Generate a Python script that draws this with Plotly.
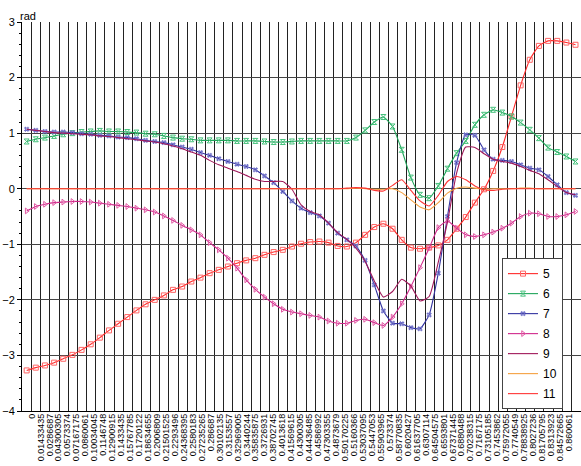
import plotly.graph_objects as go

x_labels = ["0", "0.01433435", "0.0286687", "0.04300305", "0.0573374", "0.07167175", "0.0860061",
            "0.10034045", "0.1146748", "0.12900915", "0.1433435", "0.15767785", "0.1720122",
            "0.18634655", "0.2006809", "0.21501525", "0.2293496", "0.24368395", "0.2580183",
            "0.27235265", "0.286687", "0.30102135", "0.3153557", "0.32969005", "0.3440244",
            "0.35835875", "0.3726931", "0.38702745", "0.4013618", "0.41569615", "0.4300305",
            "0.44436485", "0.4586992", "0.47303355", "0.4873679", "0.50170225", "0.5160366",
            "0.53037095", "0.5447053", "0.55903965", "0.573374", "0.58770835", "0.6020427",
            "0.61637705", "0.6307114", "0.64504575", "0.6593801", "0.67371445", "0.6880488",
            "0.70238315", "0.7167175", "0.73105185", "0.7453862", "0.75972055", "0.7740549",
            "0.78838925", "0.8027236", "0.81705795", "0.8313923", "0.84572665", "0.860061"]

s5 = [-3.27, -3.22, -3.18, -3.13, -3.06, -2.99, -2.90, -2.80, -2.68, -2.55,
      -2.43, -2.31, -2.19, -2.08, -2.00, -1.92, -1.82, -1.76, -1.67, -1.60,
      -1.52, -1.46, -1.40, -1.34, -1.29, -1.25, -1.19, -1.14, -1.10, -1.04,
      -0.99, -0.96, -0.95, -0.97, -1.03, -1.04, -0.97, -0.83, -0.69, -0.63,
      -0.72, -0.92, -1.06, -1.08, -1.06, -1.02, -0.92, -0.72, -0.51, -0.25,
      -0.01, 0.32, 0.75, 1.30, 1.86, 2.32, 2.57, 2.66, 2.66, 2.63, 2.59]
s6 = [0.85, 0.89, 0.92, 0.95, 0.98, 1.00, 1.02, 1.03, 1.04, 1.03,
      1.03, 1.02, 1.01, 0.99, 0.98, 0.95, 0.92, 0.90, 0.89, 0.87,
      0.87, 0.87, 0.87, 0.86, 0.86, 0.86, 0.85, 0.84, 0.84, 0.85,
      0.86, 0.86, 0.86, 0.86, 0.86, 0.86, 0.92, 1.05, 1.20, 1.29,
      1.12, 0.70, 0.20, -0.11, -0.17, 0.05, 0.36, 0.64, 0.86, 1.15,
      1.33, 1.42, 1.37, 1.30, 1.19, 1.06, 0.91, 0.74, 0.66, 0.58, 0.49]
s7 = [1.07, 1.05, 1.03, 1.02, 1.02, 1.01, 0.99, 0.98, 0.96, 0.95,
      0.93, 0.92, 0.90, 0.87, 0.85, 0.83, 0.79, 0.75, 0.71, 0.65,
      0.60, 0.54, 0.49, 0.44, 0.40, 0.34, 0.23, 0.11, -0.05, -0.22,
      -0.35, -0.43, -0.49, -0.62, -0.80, -0.92, -1.03, -1.29, -1.73, -2.20,
      -2.42, -2.43, -2.50, -2.52, -2.27, -1.52, -0.50, 0.47, 0.97, 0.96,
      0.70, 0.53, 0.51, 0.49, 0.43, 0.37, 0.34, 0.22, 0.07, -0.07, -0.12]
s8 = [-0.40, -0.32, -0.28, -0.25, -0.24, -0.23, -0.23, -0.24, -0.26, -0.28,
      -0.30, -0.32, -0.35, -0.38, -0.42, -0.49, -0.57, -0.66, -0.74, -0.83,
      -0.97, -1.10, -1.25, -1.43, -1.64, -1.81, -1.95, -2.07, -2.17, -2.22,
      -2.25, -2.28, -2.31, -2.38, -2.42, -2.42, -2.37, -2.35, -2.41, -2.46,
      -2.31, -2.07, -1.76, -1.42, -1.07, -0.70, -0.58, -0.71, -0.83, -0.86,
      -0.83, -0.78, -0.71, -0.62, -0.50, -0.44, -0.45, -0.50, -0.50, -0.47, -0.41]
s9 = [1.07, 1.05, 1.03, 1.01, 1.00, 0.99, 0.98, 0.97, 0.95, 0.94,
      0.92, 0.90, 0.88, 0.86, 0.84, 0.81, 0.77, 0.72, 0.66, 0.60,
      0.51, 0.43, 0.37, 0.31, 0.24, 0.17, 0.13, 0.13, 0.13, -0.01,
      -0.29, -0.41, -0.47, -0.62, -0.79, -0.91, -1.07, -1.31, -1.66, -1.95,
      -1.85, -1.63, -1.75, -2.02, -1.94, -1.32, -0.60, 0.28, 0.75, 0.74,
      0.63, 0.53, 0.49, 0.46, 0.40, 0.33, 0.27, 0.16, 0.04, -0.07, -0.11]
s10 = [0.0, 0.0, 0.0, 0.0, 0.0, 0.0, 0.0, 0.0, 0.0, 0.0,
       0.0, 0.0, 0.0, 0.0, 0.0, 0.0, 0.0, 0.0, 0.0, 0.0,
       0.0, 0.0, 0.0, 0.0, 0.0, 0.0, 0.0, 0.0, 0.0, 0.0,
       0.0, 0.0, 0.0, 0.0, 0.0, 0.0, 0.01, 0.0, -0.01, -0.01,
       0.0, -0.07, -0.20, -0.33, -0.38, -0.25, -0.08, 0.01, 0.03, 0.01,
       -0.01, 0.0, 0.0, 0.0, 0.01, 0.01, 0.0, 0.0, 0.0, 0.0, 0.0]
s11 = [0.0, 0.0, 0.0, 0.0, 0.0, 0.0, 0.0, 0.0, 0.0, 0.0,
       0.0, 0.0, 0.0, 0.0, 0.0, 0.0, 0.0, 0.0, 0.0, 0.0,
       0.0, 0.0, 0.0, 0.0, 0.0, 0.0, 0.0, 0.0, 0.0, 0.0,
       0.0, 0.0, 0.0, 0.0, 0.0, 0.01, 0.02, 0.01, -0.03, -0.04,
       0.06, 0.16, -0.03, -0.22, -0.31, -0.12, 0.13, 0.22, 0.16, 0.05,
       -0.02, -0.03, -0.01, 0.0, 0.0, 0.0, 0.0, 0.0, 0.0, 0.0, 0.0]

names = ["5", "6", "7", "8", "9", "10", "11"]
line_colors = ["#FF2A2A", "#1FA55A", "#3333A0", "#D0288C", "#A0185A", "#F5A040", "#FF3636"]
marker_colors = ["#FF6464", "#46C27C", "#7070C8", "#E25AA4", None, None, None]
symbols = ["square-open", "hourglass-open", "hash-open", "triangle-right-open", None, None, None]

idx = list(range(len(x_labels)))
series = [s5, s6, s7, s8, s9, s10, s11]

fig = go.Figure()
for i, (nm, ys) in enumerate(zip(names, series)):
    if symbols[i]:
        fig.add_trace(go.Scatter(
            x=idx, y=ys, name=nm, mode="lines+markers", legendgroup=nm,
            line=dict(color=line_colors[i], width=1.1, shape="spline", smoothing=0.5),
            marker=dict(symbol=symbols[i], size=5, color=marker_colors[i],
                        line=dict(color=marker_colors[i], width=1)),
        ))
    else:
        fig.add_trace(go.Scatter(
            x=idx, y=ys, name=nm, mode="lines", legendgroup=nm,
            line=dict(color=line_colors[i], width=1.1, shape="spline", smoothing=0.5),
        ))

fig.update_layout(
    width=581, height=466,
    margin=dict(l=22, r=0, t=22, b=55),
    paper_bgcolor="white", plot_bgcolor="white",
    font=dict(family="Liberation Sans, Arial, sans-serif", color="black"),
    legend=dict(x=0.8587, y=0.393, xanchor="left", yanchor="top",
                bgcolor="white", bordercolor="#444", borderwidth=1,
                font=dict(size=12), itemwidth=30, tracegroupgap=1,
                entrywidth=22, entrywidthmode="pixels"),
    annotations=[dict(text="rad", x=0, y=1, xref="paper", yref="paper",
                      xanchor="left", yanchor="bottom", showarrow=False,
                      font=dict(size=11), xshift=-4, yshift=-2)],
    # separate axis carrying the category labels (labels are spaced slightly
    # tighter than the grid in the reference)
    xaxis2=dict(
        overlaying="x", anchor="y", side="bottom", range=[-1.083, 61.34],
        tickvals=idx, ticktext=x_labels, tickangle=-90, tickfont=dict(size=9),
        showgrid=False, showline=False, zeroline=False, ticks="", automargin=False,
    ),
)
fig.update_xaxes(
    selector=dict(anchor="y", overlaying=None),
)
fig.layout.xaxis.update(
    range=[-0.51, 60.6], automargin=False,
    tickvals=[i + 0.55 for i in idx], showticklabels=False,
    showgrid=True, gridcolor="#222", gridwidth=1,
    showline=True, linecolor="black", linewidth=1,
    ticks="", zeroline=False,
)
fig.update_yaxes(
    range=[-4, 3], dtick=1, tick0=0, automargin=False,
    ticks="outside", ticklen=4, tickcolor="black", tickfont=dict(size=11),
    minor=dict(dtick=0.2, ticks="outside", ticklen=2, tickcolor="black", showgrid=False),
    showgrid=True, gridcolor="#444", gridwidth=1,
    showline=True, linecolor="black", linewidth=1, zeroline=False,
)
# invisible trace to activate the label axis
fig.add_trace(go.Scatter(x=[idx[0]], y=[None], xaxis="x2", showlegend=False,
                         hoverinfo="skip", mode="markers"))

fig.write_html("out.html",
               config={"displayModeBar": False},
               post_script="document.body.style.margin='0';document.body.style.overflow='hidden';")
